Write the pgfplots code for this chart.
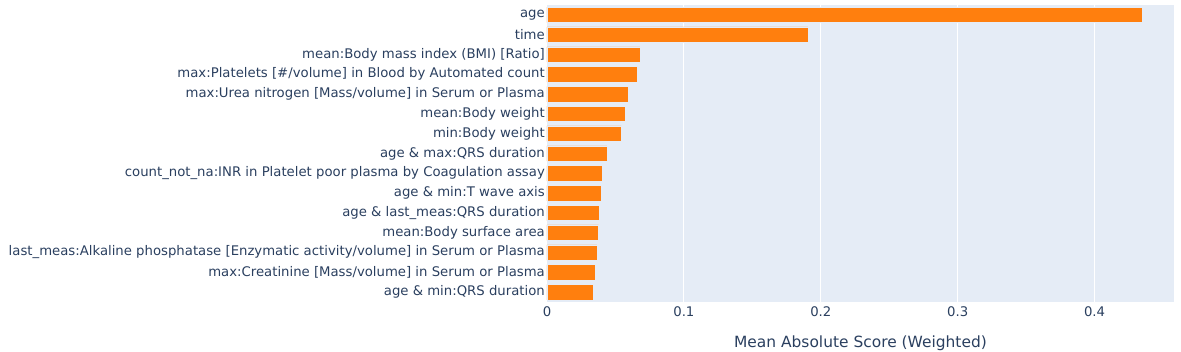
\documentclass[border=0pt]{standalone}
\usepackage{fontspec}
\setmainfont{DejaVu Sans}
\usepackage{pgfplots}
\pgfplotsset{compat=1.18}
\definecolor{plotbg}{HTML}{E5ECF6}
\definecolor{barorange}{HTML}{FF7F0E}
\definecolor{txt}{HTML}{2A3F5F}
\begin{document}
\begin{tikzpicture}
\begin{axis}[
  scale only axis,
  width=627bp, height=297bp,
  xbar, bar width=0.78,
  y dir=reverse,
  xmin=0, xmax=0.458,
  ymin=-0.5, ymax=14.5,
  xtick={0,0.1,0.2,0.3,0.4},
  xticklabels={0,0.1,0.2,0.3,0.4},
  ytick={0,...,14},
  yticklabels={
    {age},
    {time},
    {mean:Body mass index (BMI) [Ratio]},
    {max:Platelets [\#/volume] in Blood by Automated count},
    {max:Urea nitrogen [Mass/volume] in Serum or Plasma},
    {mean:Body weight},
    {min:Body weight},
    {age \& max:QRS duration},
    {count\_not\_na:INR in Platelet poor plasma by Coagulation assay},
    {age \& min:T wave axis},
    {age \& last\_meas:QRS duration},
    {mean:Body surface area},
    {last\_meas:Alkaline phosphatase [Enzymatic activity/volume] in Serum or Plasma},
    {max:Creatinine [Mass/volume] in Serum or Plasma},
    {age \& min:QRS duration}},
  axis line style={draw=none},
  major tick length=0pt,
  xmajorgrids,
  grid style={white, line width=1bp},
  axis background/.style={fill=plotbg},
  tick label style={font=\fontsize{13.3}{15}\selectfont, text=txt},
  yticklabel style={anchor=east, inner sep=0pt, xshift=-2bp},
  xticklabel style={anchor=base, inner sep=0pt, yshift=-14bp},
  xlabel={Mean Absolute Score (Weighted)},
  xlabel style={font=\fontsize{15.5}{18}\selectfont, text=txt,
    at={(rel axis cs:0.5,0)}, anchor=base, inner sep=0pt, yshift=-45bp},
]
\addplot[fill=barorange, draw=plotbg, line width=0.5bp] coordinates {
  (0.4348,0) (0.1905,1) (0.0679,2) (0.0657,3) (0.0594,4)
  (0.0572,5) (0.0543,6) (0.0438,7) (0.0406,8) (0.0394,9)
  (0.0380,10) (0.0377,11) (0.0365,12) (0.0353,13) (0.0341,14)};
\end{axis}
\pgfresetboundingbox
\path ([shift={(-547bp,-50bp)}]current axis.south west) rectangle ([shift={(7bp,5bp)}]current axis.north east);
\end{tikzpicture}
\end{document}
